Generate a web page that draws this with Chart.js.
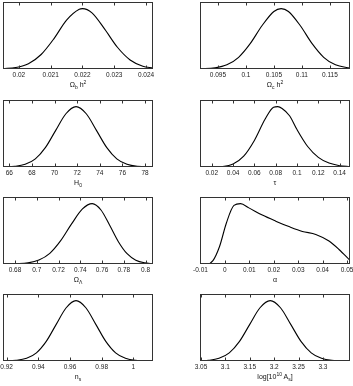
<!DOCTYPE html>
<html><head><meta charset="utf-8">
<script src="https://cdn.jsdelivr.net/npm/chart.js@4.4.1/dist/chart.umd.min.js"></script>
<style>
body{margin:0;background:#fff;width:353px;height:386px;overflow:hidden;position:relative;font-family:"Liberation Sans",Arial,sans-serif;}
.cw{position:absolute;}
.ttl{position:absolute;font-size:7px;color:#111;text-align:center;white-space:nowrap;line-height:1;}
.ttl sub,.ttl sup{font-size:5px;line-height:0;}
</style></head><body>
<script>
// ---- data (peak-normalised marginal posteriors) ----
const obX = [0.0195,0.0199,0.0203,0.0207,0.0211,0.0215,0.0219,0.0220,0.0223,0.0227,0.0231,0.0235,0.0239,0.02422];
const obY = [0.005,0.024,0.087,0.24,0.50,0.81,0.99,1.0,0.93,0.66,0.36,0.15,0.047,0.017];
const obTicks = [0.02,0.021,0.022,0.023,0.024];
const obLabels = ['0.02','0.021','0.022','0.023','0.024'];

const ocX = [0.0918,0.0945,0.0966,0.0987,0.1008,0.1029,0.1050,0.1063,0.1076,0.1097,0.1118,0.1139,0.1160,0.1186];
const ocY = [0.003,0.019,0.069,0.194,0.424,0.72,0.953,1.0,0.953,0.72,0.424,0.194,0.069,0.014];
const ocTicks = [0.095,0.1,0.105,0.11,0.115];
const ocLabels = ['0.095','0.1','0.105','0.11','0.115'];

const h0X = [65.44,66.5,67.4,68.3,69.2,70.1,71.0,71.9,72.8,73.7,74.6,75.5,76.4,77.3,78.7];
const h0Y = [0.002,0.011,0.044,0.135,0.325,0.607,0.882,1.0,0.882,0.607,0.325,0.135,0.044,0.011,0.001];
const h0Ticks = [66,68,70,72,74,76,78];
const h0Labels = ['66','68','70','72','74','76','78'];

const tauX = [0.009,0.02,0.03,0.04,0.05,0.06,0.07,0.078,0.082,0.086,0.093,0.1,0.11,0.12,0.13,0.14,0.1497];
const tauY = [0,0.001,0.008,0.05,0.18,0.44,0.79,0.99,1.0,0.97,0.85,0.62,0.34,0.16,0.065,0.022,0.006];
const tauTicks = [0.02,0.04,0.06,0.08,0.1,0.12,0.14];
const tauLabels = ['0.02','0.04','0.06','0.08','0.1','0.12','0.14'];

const olX = [0.669,0.682,0.692,0.702,0.712,0.722,0.732,0.742,0.751,0.759,0.767,0.775,0.783,0.791,0.799,0.8068];
const olY = [0.001,0.005,0.019,0.066,0.177,0.386,0.664,0.912,1.0,0.895,0.642,0.37,0.17,0.063,0.019,0.006];
const olTicks = [0.68,0.7,0.72,0.74,0.76,0.78,0.8];
const olLabels = ['0.68','0.7','0.72','0.74','0.76','0.78','0.8'];

const alX = [-0.0102,-0.0072,-0.0049,-0.0022,0.0006,0.0037,0.0064,0.0098,0.0153,0.0208,0.0262,0.0317,0.0372,0.0426,0.0467,0.0512];
const alY = [0,0,0.056,0.29,0.68,0.97,1.0,0.93,0.81,0.71,0.62,0.54,0.49,0.38,0.24,0.06];
const alTicks = [-0.01,0,0.01,0.02,0.03,0.04,0.05];
const alLabels = ['-0.01','0','0.01','0.02','0.03','0.04','0.05'];

const nsX = [0.9177,0.926,0.9326,0.9388,0.945,0.9513,0.9576,0.9638,0.970,0.9763,0.9826,0.9888,0.995,1.0013,1.0124];
const nsY = [0.001,0.010,0.044,0.135,0.325,0.607,0.882,1.0,0.882,0.607,0.325,0.135,0.044,0.011,0.001];
const nsTicks = [0.92,0.94,0.96,0.98,1];
const nsLabels = ['0.92','0.94','0.96','0.98','1'];

const asX = [3.048,3.066,3.087,3.108,3.129,3.150,3.171,3.192,3.213,3.234,3.255,3.276,3.297,3.318,3.3555];
const asY = [0.004,0.011,0.044,0.135,0.325,0.607,0.882,1.0,0.882,0.607,0.325,0.135,0.044,0.011,0.0005];
const asTicks = [3.05,3.1,3.15,3.2,3.25,3.3];
const asLabels = ['3.05','3.1','3.15','3.2','3.25','3.3'];

// ---- layout ----
const colLeft = [3,200], rowTop = [2,100,197,294], boxW = 150, boxH = 67;
const P = 20, PT = 2, AX = 12;

const boxPlugin = {id:'box', afterDraw(chart){
  const {ctx, chartArea:a} = chart; const xs = chart.scales.x;
  ctx.save(); ctx.strokeStyle='#333'; ctx.lineWidth=1;
  const l=Math.round(a.left)+0.5, t=Math.round(a.top)+0.5, r=Math.round(a.right)-0.5, b=Math.round(a.bottom)-0.5;
  ctx.strokeRect(l,t,r-l,b-t);
  ctx.beginPath();
  xs.ticks.forEach(tk=>{
    if (tk.value < xs.min || tk.value > xs.max) return;
    const px = Math.round(xs.getPixelForValue(tk.value))+0.5;
    ctx.moveTo(px,b); ctx.lineTo(px,b-3); ctx.moveTo(px,t); ctx.lineTo(px,t+3);
  });
  ctx.stroke(); ctx.restore();
}};

function makePanel(i, xs, ys, xmin, xmax, ticks, labels, title){
  const col=i%2, row=Math.floor(i/2);
  const div=document.createElement('div'); div.className='cw';
  div.style.left=(colLeft[col]-P)+'px'; div.style.top=(rowTop[row]-PT)+'px';
  div.style.width=(boxW+2*P)+'px'; div.style.height=(boxH+PT+AX)+'px';
  const cv=document.createElement('canvas'); div.appendChild(cv); document.body.appendChild(div);
  new Chart(cv,{type:'line',
    data:{datasets:[{data:xs.map((x,k)=>({x:x,y:ys[k]})),borderColor:'#000',borderWidth:1.1,pointRadius:0,cubicInterpolationMode:'monotone',fill:false}]},
    options:{responsive:true,maintainAspectRatio:false,animation:false,events:[],
      layout:{padding:{left:P,right:P,top:PT,bottom:0}},
      plugins:{legend:{display:false},tooltip:{enabled:false}},
      scales:{
        x:{type:'linear',min:xmin,max:xmax,grid:{display:false,drawTicks:false,tickLength:0},border:{display:false},
           afterBuildTicks:s=>{ s.ticks=ticks.map(v=>({value:v})); },
           ticks:{autoSkip:false,maxRotation:0,minRotation:0,padding:2.5,color:'#222',font:{family:'Liberation Sans',size:6.5},callback:(v,idx)=>labels[idx]},
           afterFit:s=>{ s.height=AX; }},
        y:{display:false,min:0,max:1.11}
      }},
    plugins:[boxPlugin]});
  const t=document.createElement('div'); t.className='ttl'; t.innerHTML=title;
  t.style.left=(colLeft[col])+'px'; t.style.width=boxW+'px';
  t.style.top=(rowTop[row]+boxH+11.5)+'px';
  document.body.appendChild(t);
}

makePanel(0, obX, obY, 0.0195, 0.02422, obTicks, obLabels, 'Ω<sub>b</sub> h<sup>2</sup>');
makePanel(1, ocX, ocY, 0.0918, 0.1186, ocTicks, ocLabels, 'Ω<sub>c</sub> h<sup>2</sup>');
makePanel(2, h0X, h0Y, 65.44, 78.7, h0Ticks, h0Labels, 'H<sub>0</sub>');
makePanel(3, tauX, tauY, 0.009, 0.1497, tauTicks, tauLabels, 'τ');
makePanel(4, olX, olY, 0.669, 0.8068, olTicks, olLabels, 'Ω<sub>Λ</sub>');
makePanel(5, alX, alY, -0.0102, 0.0512, alTicks, alLabels, 'α');
makePanel(6, nsX, nsY, 0.9177, 1.0124, nsTicks, nsLabels, 'n<sub>s</sub>');
makePanel(7, asX, asY, 3.048, 3.3555, asTicks, asLabels, 'log[10<sup>10</sup> A<sub>s</sub>]');
</script>
</body></html>
